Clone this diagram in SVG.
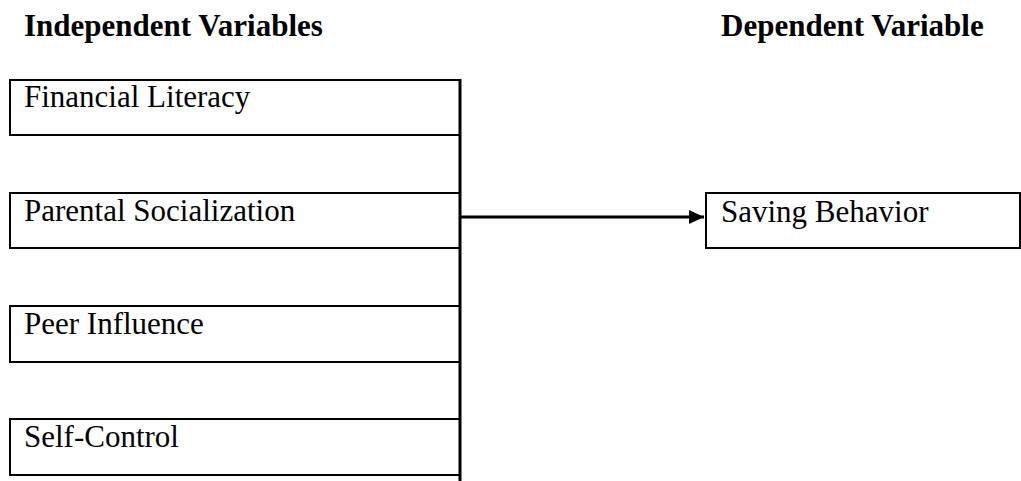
<svg xmlns="http://www.w3.org/2000/svg" width="1021" height="481" viewBox="0 0 1021 481">
<defs>
<style>
.box{fill:#fff;stroke:#000;stroke-width:2}
.t{font-family:'Liberation Serif','Times New Roman',serif;font-size:31px;fill:#000}
.h{font-family:'Liberation Serif','Times New Roman',serif;font-size:31px;font-weight:bold;fill:#000}
.ln{stroke:#000;stroke-width:3;fill:none}
</style>
<marker id="ah" markerWidth="16" markerHeight="18" refX="15" refY="9" markerUnits="userSpaceOnUse" orient="auto">
<path d="M0,2 L15,9 L0,16 Z" fill="#000"/>
</marker>
</defs>
<rect width="1021" height="481" fill="#fff"/>
<text class="h" x="24" y="36" font-family="Liberation Serif, serif">Independent Variables</text>
<text class="h" x="721" y="36" font-family="Liberation Serif, serif">Dependent Variable</text>
<g id="n1"><rect class="box" x="10" y="80" width="450" height="55"/><text class="t" x="24" y="107" font-family="Liberation Serif, serif">Financial Literacy</text></g>
<g id="n2"><rect class="box" x="10" y="193" width="450" height="55"/><text class="t" x="24" y="221" font-family="Liberation Serif, serif">Parental Socialization</text></g>
<g id="n3"><rect class="box" x="10" y="306" width="450" height="56"/><text class="t" x="24" y="334" font-family="Liberation Serif, serif">Peer Influence</text></g>
<g id="n4"><rect class="box" x="10" y="419" width="450" height="56"/><text class="t" x="24" y="447" font-family="Liberation Serif, serif">Self-Control</text></g>
<g id="n5"><rect class="box" x="706" y="193" width="314" height="55"/><text class="t" x="721" y="222" font-family="Liberation Serif, serif">Saving Behavior</text></g>
<g id="connectors">
<line class="ln" x1="460" y1="79" x2="460" y2="481"/>
<line class="ln" x1="460" y1="217" x2="704" y2="217" marker-end="url(#ah)"/>
</g>
</svg>
